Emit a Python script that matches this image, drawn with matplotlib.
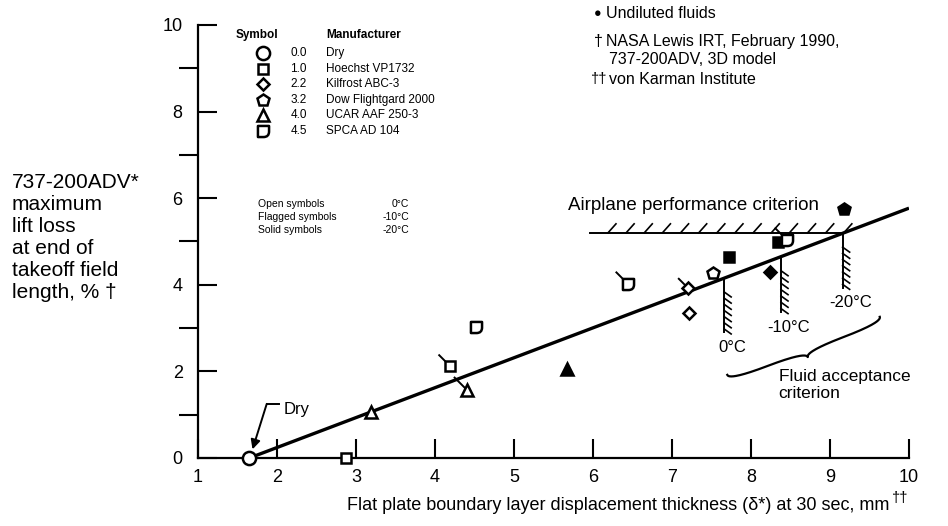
import numpy as np
import matplotlib.pyplot as plt
from matplotlib.path import Path

plt.rcParams['font.family'] = ['Liberation Sans', 'DejaVu Sans']

# fluid manufacturers (symbol key)
mfr_codes = ['0.0', '1.0', '2.2', '3.2', '4.0', '4.5']
mfr_names = ['Dry', 'Hoechst VP1732', 'Kilfrost ABC-3', 'Dow Flightgard 2000',
             'UCAR AAF 250-3', 'SPCA AD 104']
mfr_syms = ['dry', 'square', 'diamond', 'pent', 'tri', 'spca']

temp_names = ['Open symbols', 'Flagged symbols', 'Solid symbols']
temp_vals = ['0°C', '-10°C', '-20°C']

# test points: BLDT (mm) vs lift loss (%)
pt_x = [1.65, 2.87, 3.19, 4.40, 4.19, 4.52, 5.67, 6.44, 7.20, 7.22, 7.52, 7.72, 8.24, 8.34, 8.45, 9.18]
pt_y = [0.00, 0.00, 1.06, 1.57, 2.12, 3.03, 2.05, 4.03, 3.92, 3.35, 4.27, 4.64, 4.30, 4.99, 5.03, 5.75]
pt_sym = ['dry', 'square', 'tri', 'tri', 'square', 'spca', 'tri', 'spca', 'diamond', 'diamond',
          'pent', 'square', 'diamond', 'square', 'spca', 'pent']
pt_temp = ['open', 'open', 'open', 'flag', 'flag', 'open', 'solid', 'flag', 'flag', 'open',
           'open', 'solid', 'solid', 'solid', 'flag', 'solid']

# correlation line
fit_x = [1.65, 10.0]
fit_y = [0.0, 5.77]

# criteria
perf_y = 5.2
perf_x0 = 5.96
accept_x = [7.66, 8.38, 9.16]
accept_bottom = [2.9, 3.37, 3.93]
accept_labels = ['0°C', '-10°C', '-20°C']

spca = Path([(-1, 1), (1, 1), (1, 0), (1, -1), (0, -1), (-1, -1), (-1, 1)],
            [Path.MOVETO, Path.LINETO, Path.LINETO, Path.CURVE3, Path.CURVE3,
             Path.LINETO, Path.CLOSEPOLY])
flag = Path([(0, 0), (-1, 1)], [Path.MOVETO, Path.LINETO])
markers = {'dry': ('o', 9.5), 'square': ('s', 7.5), 'diamond': ('D', 6.5),
           'pent': ('p', 9), 'tri': ('^', 8.5), 'spca': (spca, 8)}

fig = plt.figure(figsize=(9.48, 5.26), dpi=100)
ax = fig.add_axes([198 / 948, 1 - 458 / 526, 711 / 948, 433 / 526])
ax.set_xlim(1, 10)
ax.set_ylim(0, 10)
for s in ['top', 'right']:
    ax.spines[s].set_visible(False)
for s in ['left', 'bottom']:
    ax.spines[s].set_linewidth(1.6)
ax.set_xticks(range(1, 11))
ax.set_yticks(range(0, 11, 2))
ax.set_yticks(range(1, 10, 2), minor=True)
ax.tick_params(direction='in', length=14, width=1.5, labelsize=13)
ax.tick_params(axis='x', pad=8)
ax.tick_params(axis='y', which='both', pad=11, length=14, width=1.5)


def draw_point(x, y, sym, temp, **kw):
    m, ms = markers[sym]
    if temp == 'flag':
        ax.plot(x, y, marker=flag, ms=ms * 2.3, mec='k', mew=1.4, ls='none', zorder=4, **kw)
    fc = 'k' if temp == 'solid' else 'white'
    ax.plot(x, y, marker=m, ms=ms, mfc=fc, mec='k', mew=1.8, ls='none', zorder=5, **kw)


ax.plot(fit_x, fit_y, color='k', lw=2.4, zorder=3, solid_capstyle='butt')
for x, y, s, t in zip(pt_x, pt_y, pt_sym, pt_temp):
    draw_point(x, y, s, t, clip_on=False)

to_px = ax.transData.transform
to_data = ax.transData.inverted().transform


def hatch(p0, p1, dx, dy, step, skip=0.0):
    a, b = to_px(p0), to_px(p1)
    n = int(np.hypot(*(b - a)) // step)
    for t in np.linspace(skip, 1, n + 1)[1:]:
        p = a + (b - a) * t
        seg = to_data([p, p + [dx, dy]])
        ax.plot(seg[:, 0], seg[:, 1], color='k', lw=1.2, zorder=2)


# airplane performance criterion
slope = (fit_y[1] - fit_y[0]) / (fit_x[1] - fit_x[0])
perf_x1 = fit_x[0] + perf_y / slope
ax.plot([perf_x0, perf_x1], [perf_y, perf_y], color='k', lw=1.4, zorder=2)
hatch((perf_x0, perf_y), (perf_x1, perf_y), 8, 9, 17.5)
ax.text((perf_x0 + perf_x1) / 2 - 0.3, perf_y + 0.62, 'Airplane performance criterion',
        fontsize=13.5, ha='center', va='center')

# fluid acceptance criterion
for x, yb, lab in zip(accept_x, accept_bottom, accept_labels):
    yt = fit_y[0] + slope * (x - fit_x[0])
    ax.plot([x, x], [yt, yb], color='k', lw=1.4, zorder=2)
    hatch((x, yt), (x, yb + 0.08), 7, -5, 6.5, skip=0.15)
    ax.text(x + 0.1, yb - 0.35, lab, fontsize=12, ha='center', va='center')

# curly brace
A, B = to_px((7.70, 1.92)), to_px((9.63, 3.26))
u = (B - A) / np.hypot(*(B - A))
nrm = np.array([u[1], -u[0]])
L, h = np.hypot(*(B - A)), 12
t = np.linspace(0, 1, 40)


def bez(p0, c, p1):
    return ((1 - t)[:, None] ** 2 * p0 + 2 * ((1 - t) * t)[:, None] * c + t[:, None] ** 2 * p1)


local = np.vstack([
    bez(np.array([0, 0]), np.array([0, h / 2]), np.array([L / 4, h / 2])),
    bez(np.array([L / 4, h / 2]), np.array([L / 2, h / 2]), np.array([L / 2, h])),
    bez(np.array([L / 2, h]), np.array([L / 2, h / 2]), np.array([3 * L / 4, h / 2])),
    bez(np.array([3 * L / 4, h / 2]), np.array([L, h / 2]), np.array([L, 0])),
])
brace = to_data(A + local[:, :1] * u + local[:, 1:] * nrm)
ax.plot(brace[:, 0], brace[:, 1], color='k', lw=1.6)
ax.text(8.35, 2.05, 'Fluid acceptance\ncriterion', fontsize=12.5, ha='left', va='top',
        linespacing=1.15)

# dry label
ax.plot([2.02, 1.87], [1.25, 1.25], color='k', lw=1.4)
ax.annotate('', xy=(1.69, 0.2), xytext=(1.87, 1.25),
            arrowprops=dict(arrowstyle='-|>', color='k', lw=1.4, mutation_scale=14,
                            shrinkA=0, shrinkB=0))
ax.text(2.08, 1.12, 'Dry', fontsize=12, ha='left', va='center')

# symbol key
key_y0, key_dy = 9.35, 0.358
ax.text(1.48, 9.77, 'Symbol', fontsize=8.5, fontweight='bold', va='center')
ax.text(2.62, 9.77, 'Manufacturer', fontsize=8.5, fontweight='bold', va='center')
for i, (c, n, s) in enumerate(zip(mfr_codes, mfr_names, mfr_syms)):
    y = key_y0 - i * key_dy
    m, ms = markers[s]
    ax.plot(1.82, y, marker=m, ms=ms, mfc='white', mec='k', mew=1.8, ls='none')
    ax.text(2.38, y, c, fontsize=8.5, ha='right', va='center')
    ax.text(2.62, y, n, fontsize=8.5, ha='left', va='center')

for i, (n, v) in enumerate(zip(temp_names, temp_vals)):
    y = 5.86 - i * 0.3
    ax.text(1.76, y, n, fontsize=7.5, ha='left', va='center')
    ax.text(3.67, y, v, fontsize=7.5, ha='right', va='center')

# notes
fig.text(594 / 948, 1 - 14 / 526, '●', fontsize=9, va='center')
fig.text(606 / 948, 1 - 14 / 526, 'Undiluted fluids', fontsize=11.5, va='center')
fig.text(594 / 948, 1 - 41 / 526, '†', fontsize=11.5, va='center')
fig.text(606 / 948, 1 - 41 / 526, 'NASA Lewis IRT, February 1990,', fontsize=11.5, va='center')
fig.text(609 / 948, 1 - 60 / 526, '737-200ADV, 3D model', fontsize=11.5, va='center')
fig.text(591 / 948, 1 - 79 / 526, '††', fontsize=10.5, va='center')
fig.text(609 / 948, 1 - 79 / 526, 'von Karman Institute', fontsize=11.5, va='center')

# axis titles
fig.text(12 / 948, 1 - 238 / 526,
         '737-200ADV*\nmaximum\nlift loss\nat end of\ntakeoff field\nlength, % †',
         fontsize=15, ha='left', va='center', linespacing=1.2)
fig.text(889 / 948, 1 - 506 / 526,
         'Flat plate boundary layer displacement thickness (δ*) at 30 sec, mm',
         fontsize=13, ha='right', va='center')
fig.text(892 / 948, 1 - 498 / 526, '††', fontsize=10.5, ha='left', va='center')

fig.savefig('out.png', dpi=100)
